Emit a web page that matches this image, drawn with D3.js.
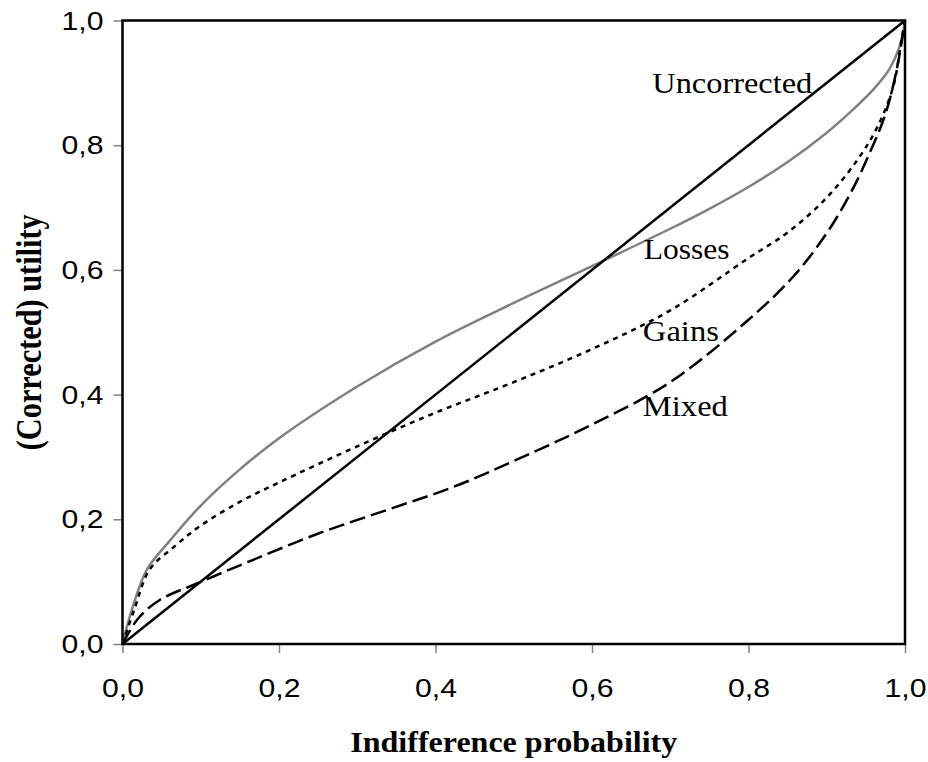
<!DOCTYPE html>
<html>
<head>
<meta charset="utf-8">
<script src="https://cdn.jsdelivr.net/npm/d3@7"></script>
<style>
  body { margin: 0; background: #fff; }
</style>
</head>
<body>
<div id="chart"></div>
<script>
// values
const lossesX = [0, 0.012, 0.031, 0.06, 0.1, 0.15, 0.2, 0.3, 0.4, 0.5, 0.6, 0.7, 0.75, 0.8, 0.85, 0.9, 0.93, 0.96, 0.98, 0.993, 1];
const lossesY = [0, 0.055, 0.119, 0.165, 0.222, 0.28, 0.33, 0.413, 0.485, 0.547, 0.606, 0.666, 0.698, 0.733, 0.773, 0.82, 0.853, 0.89, 0.922, 0.958, 1];

const gainsX = [0, 0.015, 0.035, 0.067, 0.1, 0.15, 0.2, 0.3, 0.4, 0.5, 0.6, 0.7, 0.8, 0.85, 0.9, 0.94, 0.965, 0.985, 0.995, 1];
const gainsY = [0, 0.055, 0.12, 0.157, 0.19, 0.228, 0.259, 0.317, 0.371, 0.42, 0.473, 0.535, 0.619, 0.66, 0.716, 0.778, 0.83, 0.894, 0.965, 1];

const mixedX = [0, 0.02, 0.048, 0.095, 0.167, 0.252, 0.338, 0.423, 0.508, 0.6, 0.7, 0.8, 0.857, 0.9, 0.93, 0.955, 0.975, 0.99, 1];
const mixedY = [0, 0.041, 0.071, 0.097, 0.135, 0.178, 0.215, 0.252, 0.298, 0.352, 0.42, 0.52, 0.589, 0.659, 0.722, 0.788, 0.85, 0.925, 1];

const uncorrectedX = [0, 1];
const uncorrectedY = [0, 1];

const tickValues = [0, 0.2, 0.4, 0.6, 0.8, 1];

const labelNames = ["Uncorrected", "Losses", "Gains", "Mixed"];
const labelX = [0.677, 0.666, 0.665, 0.665];
const labelY = [0.884, 0.617, 0.486, 0.366];
const labelLen = [160, 86, 76, 85];

(function (d3) {
    "use strict";

    const width = 928, height = 762;
    const margin = {top: 20.5, right: 23, bottom: 118, left: 122.5};
    const innerW = width - margin.left - margin.right;
    const innerH = height - margin.top - margin.bottom;

    const x = d3.scaleLinear().domain([0, 1]).range([0, innerW]);
    const y = d3.scaleLinear().domain([0, 1]).range([innerH, 0]);
    const fmt = v => d3.format(".1f")(v).replace(".", ",");

    const svg = d3.select("#chart")
        .append("svg")
            .attr("width", width)
            .attr("height", height);

    const g = svg.append("g")
        .attr("transform", `translate(${margin.left},${margin.top})`);

    // axes (ticks are grey, frame drawn on top in black)
    const yAxis = g.append("g")
        .call(d3.axisLeft(y).tickValues(tickValues).tickSize(9).tickPadding(0).tickFormat(fmt));
    const xAxis = g.append("g")
        .attr("transform", `translate(0,${innerH})`)
        .call(d3.axisBottom(x).tickValues(tickValues).tickSize(9).tickPadding(0).tickFormat(fmt));

    [xAxis, yAxis].forEach(a => {
        a.select(".domain").remove();
        a.selectAll(".tick line").attr("stroke", "#808080").attr("stroke-width", 1.5);
        a.selectAll(".tick text")
            .attr("font-family", "'Liberation Sans', Arial, sans-serif")
            .attr("font-size", 25)
            .attr("fill", "#000")
            .attr("textLength", 42)
            .attr("lengthAdjust", "spacingAndGlyphs");
    });
    yAxis.selectAll(".tick text")
        .attr("x", -19)
        .attr("dy", null)
        .attr("y", 8.5);
    xAxis.selectAll(".tick text")
        .attr("dy", null)
        .attr("y", 53);

    const line = d3.line()
        .x(d => x(d[0]))
        .y(d => y(d[1]))
        .curve(d3.curveCatmullRom.alpha(0.5));

    const series = [
        {xs: lossesX, ys: lossesY, stroke: "#808080", width: 2.5, dash: null},
        {xs: gainsX, ys: gainsY, stroke: "#000", width: 2.5, dash: "5,5"},
        {xs: mixedX, ys: mixedY, stroke: "#000", width: 2.5, dash: "16,6"},
        {xs: uncorrectedX, ys: uncorrectedY, stroke: "#000", width: 2.5, dash: null}
    ];

    g.selectAll("path.curve")
        .data(series)
        .enter()
        .append("path")
            .attr("class", "curve")
            .attr("d", s => line(s.xs.map((v, i) => [v, s.ys[i]])))
            .attr("fill", "none")
            .attr("stroke", s => s.stroke)
            .attr("stroke-width", s => s.width)
            .attr("stroke-dasharray", s => s.dash);

    // plot frame
    g.append("rect")
        .attr("width", innerW)
        .attr("height", innerH)
        .attr("fill", "none")
        .attr("stroke", "#000")
        .attr("stroke-width", 2.5);

    // curve labels
    g.selectAll("text.label")
        .data(labelNames)
        .enter()
        .append("text")
            .attr("class", "label")
            .attr("x", (d, i) => x(labelX[i]))
            .attr("y", (d, i) => y(labelY[i]))
            .attr("font-family", "'Liberation Serif', 'Times New Roman', serif")
            .attr("font-size", 29)
            .attr("textLength", (d, i) => labelLen[i])
            .attr("lengthAdjust", "spacingAndGlyphs")
            .text(d => d);

    // axis titles
    svg.append("text")
        .attr("x", margin.left + innerW / 2)
        .attr("y", 752)
        .attr("text-anchor", "middle")
        .attr("font-family", "'Liberation Serif', 'Times New Roman', serif")
        .attr("font-weight", "bold")
        .attr("font-size", 30)
        .attr("textLength", 327)
        .attr("lengthAdjust", "spacingAndGlyphs")
        .text("Indifference probability");

    svg.append("text")
        .attr("transform", `translate(41,${margin.top + innerH / 2}) rotate(-90)`)
        .attr("text-anchor", "middle")
        .attr("font-family", "'Liberation Serif', 'Times New Roman', serif")
        .attr("font-weight", "bold")
        .attr("font-size", 35)
        .attr("textLength", 236)
        .attr("lengthAdjust", "spacingAndGlyphs")
        .text("(Corrected) utility");
})(d3);
</script>
</body>
</html>
